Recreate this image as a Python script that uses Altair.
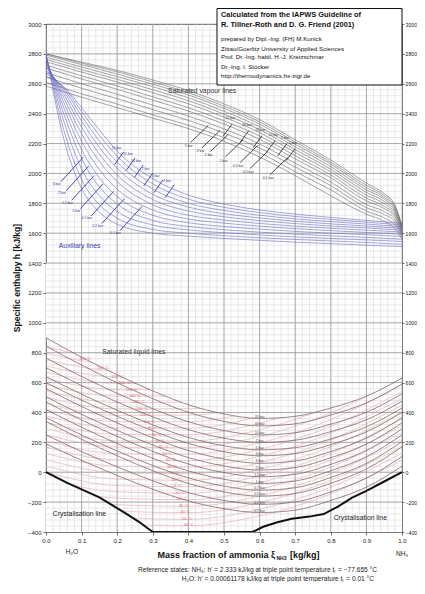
import altair as alt
import pandas as pd
import numpy as np

FONT = "Liberation Sans"

# ---------------- saturated vapour lines ----------------
VAP_X = [0, 0.1, 0.2, 0.3, 0.4, 0.5, 0.6, 0.7, 0.8, 0.9, 0.95, 0.98, 1.0]
VAP_P = ["25 bar", "20 bar", "15 bar", "10 bar", "7 bar", "5 bar", "3 bar", "2 bar", "1 bar", "0.5 bar", "0.2 bar", "0.1 bar"]
VAP_H = [
    [2800, 2745, 2690, 2625, 2555, 2465, 2360, 2225, 2090, 1935, 1865, 1790, 1650],
    [2800, 2738, 2680, 2612, 2540, 2450, 2345, 2210, 2075, 1920, 1852, 1780, 1645],
    [2792, 2728, 2665, 2597, 2525, 2435, 2330, 2195, 2062, 1905, 1840, 1770, 1640],
    [2778, 2712, 2648, 2580, 2506, 2416, 2312, 2178, 2045, 1890, 1827, 1760, 1635],
    [2763, 2695, 2630, 2560, 2487, 2397, 2293, 2160, 2028, 1873, 1812, 1748, 1628],
    [2748, 2678, 2612, 2540, 2466, 2377, 2273, 2140, 2010, 1855, 1797, 1736, 1620],
    [2725, 2653, 2585, 2513, 2440, 2352, 2250, 2118, 1990, 1835, 1780, 1722, 1612],
    [2706, 2632, 2563, 2490, 2417, 2330, 2228, 2097, 1970, 1816, 1765, 1710, 1604],
    [2675, 2600, 2530, 2457, 2384, 2298, 2197, 2068, 1942, 1792, 1744, 1692, 1594],
    [2646, 2570, 2500, 2427, 2355, 2270, 2170, 2043, 1918, 1771, 1725, 1676, 1585],
    [2609, 2533, 2464, 2392, 2322, 2240, 2138, 2012, 1890, 1748, 1702, 1655, 1573],
    [2584, 2510, 2440, 2370, 2300, 2215, 2110, 1985, 1850, 1727, 1680, 1630, 1560],
]

# ---------------- auxiliary lines ----------------
AUX_X = [0, 0.05, 0.1, 0.15, 0.2, 0.3, 0.4, 0.5, 0.6, 0.7, 0.8, 0.9, 1.0]
AUX_H = [
    [2800, 2230, 1900, 1740, 1660, 1600, 1580, 1565, 1552, 1540, 1530, 1520, 1510],
    [2800, 2290, 1960, 1790, 1700, 1625, 1600, 1583, 1570, 1558, 1548, 1538, 1525],
    [2790, 2350, 2030, 1850, 1745, 1655, 1622, 1603, 1588, 1575, 1565, 1555, 1545],
    [2780, 2400, 2100, 1910, 1795, 1685, 1645, 1623, 1607, 1593, 1582, 1572, 1560],
    [2770, 2440, 2160, 1970, 1845, 1720, 1670, 1645, 1627, 1612, 1600, 1590, 1578],
    [2755, 2475, 2215, 2025, 1895, 1755, 1695, 1667, 1647, 1630, 1617, 1605, 1593],
    [2740, 2505, 2265, 2080, 1945, 1790, 1720, 1688, 1665, 1647, 1633, 1620, 1608],
    [2725, 2530, 2310, 2130, 1990, 1825, 1748, 1710, 1684, 1664, 1648, 1635, 1620],
    [2710, 2550, 2350, 2175, 2035, 1860, 1775, 1730, 1702, 1680, 1662, 1648, 1632],
    [2690, 2565, 2385, 2215, 2075, 1895, 1800, 1752, 1720, 1696, 1677, 1661, 1643],
    [2670, 2575, 2415, 2255, 2115, 1930, 1828, 1773, 1738, 1712, 1692, 1674, 1655],
    [2650, 2580, 2440, 2290, 2150, 1965, 1855, 1795, 1755, 1728, 1705, 1686, 1665],
]

# ---------------- saturated liquid lines ----------------
LIQ_X = [0, 0.1, 0.2, 0.3, 0.4, 0.5, 0.6, 0.7, 0.8, 0.9, 1.0]
LIQ_P = ["20 bar", "15 bar", "10 bar", "7 bar", "5 bar", "4 bar", "3 bar", "2 bar",
         "1.5 bar", "1 bar", "0.7 bar", "0.5 bar", "0.2 bar", "0.1 bar"]
LIQ_H = [
    [900, 770, 652, 544, 452, 390, 360, 374, 430, 509, 630],
    [845, 717, 599, 492, 401, 340, 310, 324, 383, 464, 590],
    [765, 641, 528, 425, 338, 279, 250, 264, 322, 401, 525],
    [700, 580, 470, 370, 285, 228, 200, 214, 272, 351, 475],
    [640, 522, 415, 317, 233, 177, 150, 164, 223, 304, 430],
    [600, 482, 375, 277, 193, 137, 110, 125, 185, 270, 400],
    [560, 440, 330, 230, 145, 88, 60, 75, 139, 228, 365],
    [505, 387, 280, 182, 98, 42, 15, 31, 97, 188, 330],
    [470, 350, 240, 140, 55, -2, -30, -14, 53, 146, 290],
    [420, 301, 192, 93, 9, -47, -75, -59, 10, 104, 250],
    [365, 249, 142, 45, -38, -93, -120, -104, -35, 59, 205],
    [340, 220, 110, 10, -75, -132, -160, -143, -74, 22, 170],
    [250, 138, 36, -57, -136, -189, -215, -199, -132, -39, 105],
    [190, 80, -22, -114, -192, -244, -270, -254, -189, -100, 40],
]

# ---------------- isotherms (liquid region) ----------------
ISO_X = [0, 0.2, 0.4, 0.6, 0.8, 1.0]
ISO_T = [200, 190, 180, 170, 160, 150, 140, 130, 120, 110, 100, 90, 80, 70,
         60, 50, 40, 30, 20, 10, 0, -10, -20, -30, -40, -50, -60]
ISO_H = [
    [838, 766, 774, 862, 1030, 1277],
    [796, 723, 730, 817, 984, 1231],
    [754, 680, 687, 773, 939, 1185],
    [712, 638, 643, 728, 894, 1139],
    [670, 595, 600, 684, 849, 1093],
    [629, 552, 556, 640, 803, 1047],
    [587, 509, 513, 595, 758, 1001],
    [545, 467, 469, 551, 713, 955],
    [503, 424, 425, 507, 668, 909],
    [461, 381, 382, 462, 623, 863],
    [419, 339, 338, 418, 578, 817],
    [377, 296, 295, 374, 532, 771],
    [335, 253, 251, 329, 487, 725],
    [293, 210, 208, 285, 442, 679],
    [251, 168, 164, 240, 397, 633],
    [210, 125, 121, 196, 352, 587],
    [168, 82, 77, 152, 307, 541],
    [126, 40, 34, 107, 261, 495],
    [84, -3, -10, 63, 216, 449],
    [42, -46, -54, 19, 171, 403],
    [0, -89, -97, -26, 126, 357],
    [-42, -131, -141, -70, 81, 311],
    [-84, -174, -184, -114, 35, 265],
    [-126, -217, -228, -159, -10, 219],
    [-168, -259, -271, -203, -55, 173],
    [-210, -302, -315, -248, -100, 127],
    [-251, -345, -358, -292, -145, 81],
]
ISO_LAB_T = ISO_T[1:]
ISO_LAB_X = [0.11, 0.16, 0.20, 0.22, 0.24, 0.25, 0.26, 0.27, 0.28, 0.29, 0.30, 0.31, 0.32,
             0.33, 0.34, 0.35, 0.355, 0.36, 0.365, 0.37, 0.375, 0.38, 0.385, 0.39, 0.395, 0.40]
ISO_LAB_H = [760, 695, 638, 595, 552, 509, 467, 424, 381, 338, 296, 252, 209,
             166, 123, 80, 37, -6, -50, -93, -137, -180, -223, -266, -310, -353]

# ---------------- crystallisation line ----------------
CRY_X = [0, 0.058, 0.1, 0.15, 0.225, 0.26, 0.3, 0.58, 0.61, 0.65, 0.69, 0.74, 0.78, 0.82, 0.86, 0.9, 0.95, 1.0]
CRY_H = [0, -70, -115, -168, -277, -330, -400, -400, -365, -335, -312, -297, -280, -230, -170, -125, -62, 0]

# ---------------- line labels ----------------
VAP_LAB = ["25 bar", "20 bar", "15 bar", "10 bar", "7 bar", "5 bar",
           "5 bar", "3 bar", "2 bar", "1 bar", "0.5 bar", "0.2 bar", "0.1 bar"]
VAP_LAB_X = [0.518, 0.565, 0.602, 0.639, 0.671, 0.694, 0.401, 0.434, 0.457, 0.499, 0.540, 0.568, 0.624]
VAP_LAB_H = [2371, 2327, 2293, 2260, 2238, 2204, 2182, 2148, 2122, 2086, 2048, 2008, 1966]
VAP_LAB_GROUP = ["u"] * 6 + ["l"] * 7

AUX_LAB = ["20 bar", "15 bar", "10 bar", "7 bar", "5 bar", "4 bar",
           "3 bar", "2 bar", "1.5 bar", "1 bar", "0.5 bar", "0.2 bar", "0.1 bar"]
AUX_LAB_X = [0.198, 0.23, 0.253, 0.28, 0.308, 0.34, 0.03, 0.045, 0.06, 0.085, 0.115, 0.145, 0.195]
AUX_LAB_H = [2169, 2128, 2082, 2028, 1981, 1948, 1930, 1870, 1805, 1750, 1700, 1650, 1600]
AUX_LAB_GROUP = ["u"] * 6 + ["l"] * 7

X_TICKS = [round(i * 0.1, 1) for i in range(11)]
Y_TICKS = list(range(-400, 3001, 200))

W = 356
H = 508


def lines_df(xs, hs, ids):
    rows = []
    for i, hv in zip(ids, hs):
        for x, h in zip(xs, hv):
            rows.append({"id": str(i), "x": x, "h": h})
    return pd.DataFrame(rows)


XS = alt.Scale(domain=[0, 1], nice=False, zero=False)
YS = alt.Scale(domain=[-400, 3000], nice=False, zero=False)

axis_common = dict(grid=False, domain=False, tickColor="#333", tickWidth=0.7,
                   labelFont=FONT, labelColor="#222",
                   labelOverlap=False, labelFlush=False, title=None)
x_axis = alt.Axis(values=X_TICKS, format=".1f", orient="bottom", tickSize=3, labelPadding=2, labelFontSize=6, **axis_common)
y_left = alt.Axis(values=Y_TICKS, format="d", orient="left", tickSize=3, labelPadding=2, labelFontSize=6, **axis_common)
y_right = alt.Axis(values=Y_TICKS, format="d", orient="right", tickSize=2, labelPadding=1, labelFontSize=5.2, **axis_common)


def X(axis=None, field="x"):
    return alt.X(f"{field}:Q", scale=XS, axis=axis)


def Y(axis=None, field="h"):
    return alt.Y(f"{field}:Q", scale=YS, axis=axis)


layers = []

# isotherms (pink) - carry the left / bottom axes
iso_df = lines_df(ISO_X, ISO_H, ISO_T)
layers.append(alt.Chart(iso_df).mark_line(interpolate="monotone", color="#e6a1ab", strokeWidth=0.6, clip=True)
              .encode(x=X(x_axis), y=Y(y_left), detail="id:N"))

# white masks: above the highest liquid line, below the crystallisation line
layers.append(alt.Chart(lines_df(LIQ_X, [LIQ_H[0]], ["top"])).mark_area(interpolate="monotone", color="white", opacity=1, clip=True)
              .encode(x=X(), y=Y(), y2=alt.datum(1400)))
layers.append(alt.Chart(lines_df(CRY_X, [CRY_H], ["cry"])).mark_area(color="white", opacity=1, clip=True)
              .encode(x=X(), y=Y(), y2=alt.datum(-400)))

# grid
minor_x = pd.DataFrame({"g": np.round(np.arange(0.02, 1.0, 0.02), 3)})
minor_y = pd.DataFrame({"g": np.arange(-360, 3000, 40)})
major_x = pd.DataFrame({"g": X_TICKS[1:-1]})
major_y = pd.DataFrame({"g": Y_TICKS[1:-1]})
layers.append(alt.Chart(minor_x).mark_rule(color="#d2d2d2", strokeWidth=0.5).encode(x=X(field="g")))
layers.append(alt.Chart(minor_y).mark_rule(color="#d2d2d2", strokeWidth=0.5).encode(y=Y(field="g")))
layers.append(alt.Chart(major_x).mark_rule(color="#9c9c9c", strokeWidth=0.8).encode(x=X(field="g")))
layers.append(alt.Chart(major_y).mark_rule(color="#9c9c9c", strokeWidth=0.8).encode(y=Y(field="g")))

# saturated liquid lines
layers.append(alt.Chart(lines_df(LIQ_X, LIQ_H, LIQ_P)).mark_line(interpolate="monotone", color="#7a5458", strokeWidth=0.7, clip=True)
              .encode(x=X(), y=Y(), detail="id:N"))
# saturated vapour lines
layers.append(alt.Chart(lines_df(VAP_X, VAP_H, VAP_P)).mark_line(interpolate="monotone", color="#6a6a6a", strokeWidth=0.6, clip=True)
              .encode(x=X(), y=Y(), detail="id:N"))
# auxiliary lines
layers.append(alt.Chart(lines_df(AUX_X, AUX_H, range(len(AUX_H)))).mark_line(interpolate="monotone", color="#6a6ac4", strokeWidth=0.6, clip=True)
              .encode(x=X(), y=Y(), detail="id:N"))
# crystallisation line (carries the right axis)
layers.append(alt.Chart(lines_df(CRY_X, [CRY_H], ["cry"])).mark_line(color="#111", strokeWidth=2, clip=True)
              .encode(x=X(), y=Y(y_right)))

# label ticks
vl = pd.DataFrame({"x": VAP_LAB_X, "h": VAP_LAB_H, "t": VAP_LAB, "g": VAP_LAB_GROUP})
vl["x1"] = np.where(vl.g == "u", vl.x - 0.02, vl.x + 0.005)
vl["h1"] = np.where(vl.g == "u", vl.h - 120, vl.h + 25)
vl["x2"] = np.where(vl.g == "u", vl.x + 0.005, vl.x + 0.055)
vl["h2"] = np.where(vl.g == "u", vl.h - 40, vl.h + 140)
al = pd.DataFrame({"x": AUX_LAB_X, "h": AUX_LAB_H, "t": AUX_LAB, "g": AUX_LAB_GROUP})
al["x1"] = np.where(al.g == "u", al.x - 0.005, al.x + 0.012)
al["h1"] = np.where(al.g == "u", al.h - 110, al.h + 15)
al["x2"] = np.where(al.g == "u", al.x + 0.02, al.x + 0.075)
al["h2"] = np.where(al.g == "u", al.h - 25, al.h + 180)

layers.append(alt.Chart(vl).mark_rule(color="#222", strokeWidth=0.8)
              .encode(x=X(field="x1"), y=Y(field="h1"), x2="x2:Q", y2="h2:Q"))
layers.append(alt.Chart(al).mark_rule(color="#3535b5", strokeWidth=0.9)
              .encode(x=X(field="x1"), y=Y(field="h1"), x2="x2:Q", y2="h2:Q"))
layers.append(alt.Chart(vl).mark_text(fontSize=3.5, font=FONT, color="#333", align="center", baseline="middle")
              .encode(x=X(), y=Y(), text="t:N"))
layers.append(alt.Chart(al).mark_text(fontSize=3.5, font=FONT, color="#3030a0", align="center", baseline="middle")
              .encode(x=X(), y=Y(), text="t:N"))

ll = pd.DataFrame({"x": [0.6] * len(LIQ_P), "h": [row[6] + 12 for row in LIQ_H], "t": LIQ_P})
layers.append(alt.Chart(ll).mark_text(fontSize=3.5, font=FONT, color="#444", align="center", baseline="middle")
              .encode(x=X(), y=Y(), text="t:N"))
il = pd.DataFrame({"x": ISO_LAB_X, "h": ISO_LAB_H, "t": [f"{t} °C" for t in ISO_LAB_T]})
layers.append(alt.Chart(il).mark_text(fontSize=3.8, font=FONT, color="#d4687a", align="center", baseline="middle")
              .encode(x=X(), y=Y(), text="t:N"))

# region annotations (data coordinates)
ANN_T = ["Saturated vapour lines", "Auxiliary lines", "Saturated liquid lines", "Crystalisation line", "Crystalisation line"]
ANN_X = [0.343, 0.036, 0.158, 0.019, 0.808]
ANN_H = [2550, 1513, 803, -281, -308]
ANN_C = ["#333", "#3b3bb0", "#333", "#222", "#222"]
ann = pd.DataFrame({"x": ANN_X, "h": ANN_H, "t": ANN_T, "c": ANN_C})
layers.append(alt.Chart(ann).mark_text(fontSize=6.8, font=FONT, align="left", baseline="middle")
              .encode(x=X(), y=Y(), text="t:N", color=alt.Color("c:N", scale=None)))

ONE = pd.DataFrame({"k": [0]})


def ptxt(s, px, py, size=6.5, weight="normal", color="#222", align="left", angle=0):
    return alt.Chart(ONE).mark_text(text=s, fontSize=size, fontWeight=weight, color=color, align=align,
                                    baseline="middle", font=FONT, angle=angle).encode(x=alt.value(px), y=alt.value(py))


# info box
layers.append(alt.Chart(ONE).mark_rect(fill="white", stroke="#111", strokeWidth=1)
              .encode(x=alt.value(171), x2=alt.value(W), y=alt.value(-15.5), y2=alt.value(61)))
BOX_LINES = [
    ("Calculated from the IAPWS Guideline of", -9.5, 7.4, "bold"),
    ("R. Tillner-Roth and D. G. Friend (2001)", 0.5, 7.4, "bold"),
    ("prepared by Dipl.-Ing. (FH) M.Kunick", 15.3, 6.2, "normal"),
    ("Zittau/Goerlitz University of Applied Sciences", 24.7, 6.2, "normal"),
    ("Prof. Dr.-Ing. habil. H.-J. Kretzschmar", 33.3, 6.2, "normal"),
    ("Dr.-Ing. I. Stöcker", 42.7, 6.2, "normal"),
    ("http://thermodynamics.hs-zigr.de", 52, 6.2, "normal"),
]
for s, py, size, w in BOX_LINES:
    layers.append(ptxt(s, 175, py, size=size, weight=w, color="#111"))

# axis titles and extra texts
layers.append(ptxt("Specific enthalpy h [kJ/kg]", -29, 254, size=8.6, weight="bold", color="#111", align="center", angle=270))
layers.append(ptxt("Mass fraction of ammonia ξ", 229, 531, size=9, weight="bold", color="#111", align="right"))
layers.append(ptxt("NH3", 230.5, 533.5, size=5, weight="bold", color="#111", align="left"))
layers.append(ptxt("[kg/kg]", 244, 531, size=9, weight="bold", color="#111", align="left"))
layers.append(ptxt("H₂O", 26, 528, size=6.5, color="#222", align="center"))
layers.append(ptxt("NH₃", W, 530, size=6.5, color="#222", align="center"))
layers.append(ptxt("Reference states: NH₃: h' = 2.333 kJ/kg at triple point temperature tₜ = −77.655 °C",
                   331, 546, size=6.6, color="#222", align="right"))
layers.append(ptxt("H₂O: h' = 0.00061178 kJ/kg at triple point temperature tₜ = 0.01 °C",
                   328, 555, size=6.6, color="#222", align="right"))

chart = (alt.layer(*layers)
         .resolve_axis(x="independent", y="independent")
         .properties(width=W, height=H,
                     autosize=alt.AutoSizeParams(type="none"),
                     padding={"left": 38, "top": 16, "right": 15, "bottom": 50})
         .configure_view(stroke="#333", strokeWidth=0.8))

chart.save("out.html", embed_options={"renderer": "svg", "actions": False})
